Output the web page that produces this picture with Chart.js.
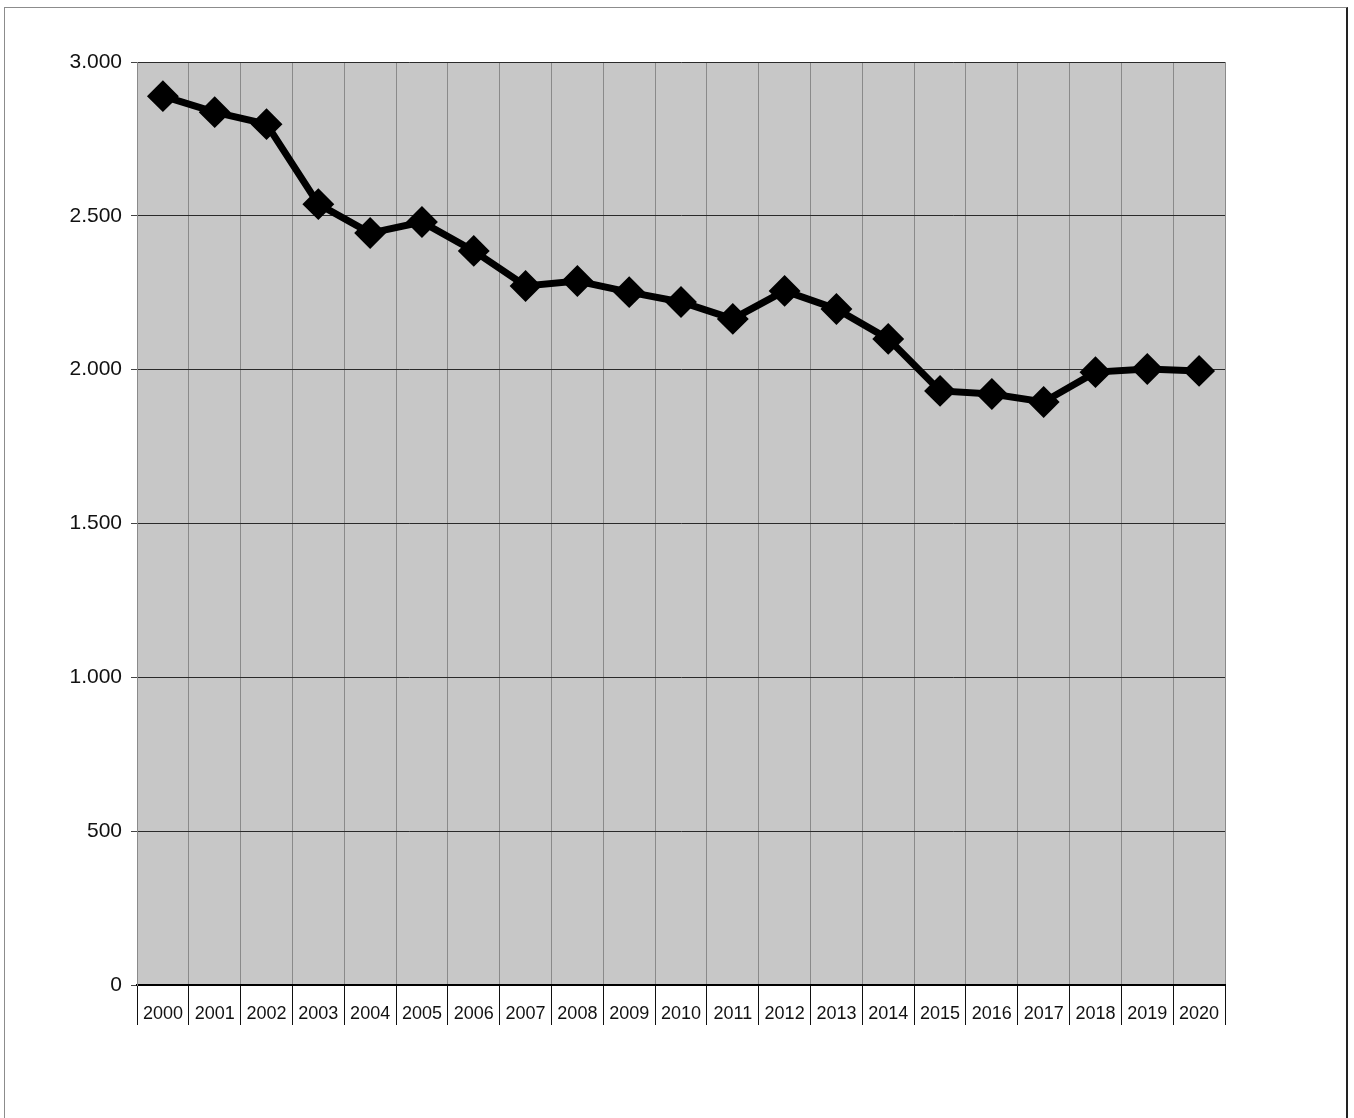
<!DOCTYPE html>
<html lang="pt-BR">
<head>
    <meta charset="UTF-8">
    <title>Série anual 2000-2020</title>
    <style>
        body { margin: 0; background: #ffffff; }
        .frame {
            position: absolute; left: 4px; top: 7px; width: 1341px; height: 1120px;
            border: 1px solid #8c8c8c; border-right: 2px solid #222;
        }
        .wrap { position: absolute; left: 0; top: 0; width: 1354px; height: 1118px; }
    </style>
</head>
<body>
    <div class="frame"></div>
    <div class="wrap"><canvas id="grafico"></canvas></div>
    <script src="https://cdn.jsdelivr.net/npm/chart.js"></script>
    <script>
        const anos = ['2000', '2001', '2002', '2003', '2004', '2005', '2006', '2007', '2008', '2009', '2010',
                      '2011', '2012', '2013', '2014', '2015', '2016', '2017', '2018', '2019', '2020'];
        const valores = [2889, 2837, 2798, 2538, 2444, 2480, 2386, 2272, 2288, 2252, 2220,
                         2165, 2256, 2197, 2100, 1931, 1921, 1895, 1992, 2002, 1996];
        const yMin = 0;
        const yMax = 3000;
        const yPasso = 500;

        // fundo cinza da área do gráfico
        const fundo = {
            id: 'fundo',
            beforeDraw(chart) {
                const a = chart.chartArea;
                const c = chart.ctx;
                c.save();
                c.fillStyle = '#c7c7c7';
                c.fillRect(a.left, a.top, a.right - a.left, a.bottom - a.top);
                c.restore();
            }
        };

        const ctx = document.getElementById('grafico').getContext('2d');
        new Chart(ctx, {
            type: 'line',
            data: {
                labels: anos,
                datasets: [{
                    data: valores,
                    borderColor: '#000000',
                    backgroundColor: '#000000',
                    borderWidth: 7,
                    pointStyle: 'rectRot',
                    pointRadius: 11,
                    pointHoverRadius: 11,
                    tension: 0,
                    fill: false
                }]
            },
            options: {
                responsive: true,
                maintainAspectRatio: false,
                animation: false,
                layout: { padding: { left: 0, top: 62, right: 129, bottom: 0 } },
                plugins: { legend: { display: false }, tooltip: { enabled: false } },
                scales: {
                    x: {
                        offset: true,
                        afterFit: s => { s.height = 133; },
                        grid: {
                            offset: true,
                            color: '#8a8a8a',
                            lineWidth: 1,
                            tickColor: '#111111',
                            tickLength: 40,
                            drawTicks: true
                        },
                        border: { display: true, color: '#000000', width: 2 },
                        ticks: {
                            color: '#111111',
                            padding: -22,
                            maxRotation: 0,
                            autoSkip: false,
                            font: { family: 'Liberation Sans', size: 18 }
                        }
                    },
                    y: {
                        min: yMin,
                        max: yMax,
                        afterFit: s => { s.width = 137; },
                        grid: {
                            color: '#2a2a2a',
                            lineWidth: 1,
                            tickLength: 6,
                            tickColor: '#444444'
                        },
                        border: { display: true, color: '#8a8a8a', width: 1 },
                        ticks: {
                            stepSize: yPasso,
                            color: '#111111',
                            padding: 9,
                            font: { family: 'Liberation Sans', size: 21 },
                            callback: v => v.toString().replace(/\B(?=(\d{3})+(?!\d))/g, '.')
                        }
                    }
                }
            },
            plugins: [fundo]
        });
    </script>
</body>
</html>
